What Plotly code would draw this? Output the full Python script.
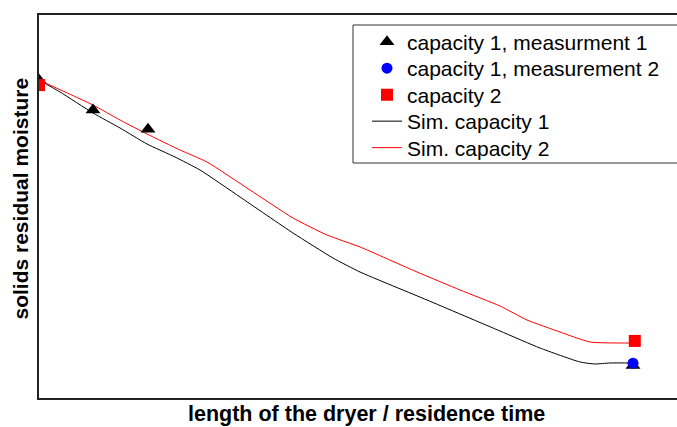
import plotly.graph_objects as go

# relative dryer length (0 = inlet, 1 = outlet) and relative residual moisture
sim1_x = [0, 0.0354, 0.0909, 0.1364, 0.1818, 0.2290, 0.2710, 0.3384, 0.4276, 0.4949,
          0.5404, 0.6532, 0.7761, 0.8434, 0.9108, 0.9360, 0.9613, 1.0]
sim1_y = [0.8303, 0.7990, 0.7441, 0.7050, 0.6632, 0.6292, 0.5953, 0.5248, 0.4308, 0.3655,
          0.3290, 0.2559, 0.1749, 0.1305, 0.0940, 0.0888, 0.0914, 0.0914]

sim2_x = [0, 0.0438, 0.0909, 0.1364, 0.1818, 0.2374, 0.2828, 0.3552, 0.4276, 0.4848,
          0.5404, 0.6364, 0.7088, 0.7761, 0.8215, 0.8771, 0.9276, 1.0]
sim2_y = [0.8303, 0.7990, 0.7650, 0.7258, 0.6893, 0.6475, 0.6162, 0.5431, 0.4700, 0.4256,
          0.3943, 0.3290, 0.2820, 0.2402, 0.2037, 0.1723, 0.1462, 0.1436]

meas1_x = [0, 0.0909, 0.1835, 1.0]
meas1_y = [0.830, 0.752, 0.702, 0.085]

meas2_x = [1.0]
meas2_y = [0.091]

cap2_x = [0, 1.003]
cap2_y = [0.817, 0.149]

FONT = "Liberation Sans, Arial, sans-serif"

W, H = 677, 427
L, R, T, B = 39, 0, 15, 29
pw, ph = W - L - R, H - T - B


def px(x):
    return (x - L) / pw


def py(y):
    return (H - B - y) / ph


fig = go.Figure()
fig.add_trace(go.Scatter(x=sim1_x, y=sim1_y, mode="lines", name="Sim. capacity 1",
                         line=dict(color="black", width=1, shape="spline", smoothing=0.5),
                         legend="legend4"))
fig.add_trace(go.Scatter(x=sim2_x, y=sim2_y, mode="lines", name="Sim. capacity 2",
                         line=dict(color="red", width=1, shape="spline", smoothing=0.5),
                         legend="legend5"))
fig.add_trace(go.Scatter(x=meas1_x, y=meas1_y, mode="markers", name="capacity 1, measurment 1",
                         marker=dict(symbol="triangle-up", color="black", size=13), legend="legend"))
fig.add_trace(go.Scatter(x=meas2_x, y=meas2_y, mode="markers", name="capacity 1, measurement 2",
                         marker=dict(symbol="circle", color="blue", size=11), legend="legend2"))
fig.add_trace(go.Scatter(x=cap2_x, y=cap2_y, mode="markers", name="capacity 2",
                         marker=dict(symbol="square", color="red", size=12), legend="legend3"))

row_centers = [42, 68.5, 95, 121.5, 148]


def leg(yc):
    return dict(x=px(367), y=py(yc), xanchor="left", yanchor="middle",
                bgcolor="rgba(0,0,0,0)", borderwidth=0,
                font=dict(size=21, family=FONT, color="black"))


fig.update_layout(
    width=W, height=H,
    margin=dict(l=L, r=R, t=T, b=B),
    paper_bgcolor="white", plot_bgcolor="white",
    font=dict(family=FONT, color="black"),
    showlegend=True,
    legend=leg(row_centers[0]),
    legend2=leg(row_centers[1]),
    legend3=leg(row_centers[2]),
    legend4=leg(row_centers[3]),
    legend5=leg(row_centers[4]),
    xaxis=dict(range=[0, (677 - 39) / 594], showgrid=False, zeroline=False,
               showticklabels=False, ticks="", showline=True, linecolor="#222",
               linewidth=1.5, mirror=True),
    yaxis=dict(range=[0, 1], showgrid=False, zeroline=False,
               showticklabels=False, ticks="", showline=True, linecolor="#222",
               linewidth=1.5, mirror=False),
    shapes=[dict(type="rect", xref="paper", yref="paper",
                 x0=px(353), x1=1.05, y0=py(163), y1=py(25),
                 line=dict(color="#333", width=1), fillcolor="rgba(0,0,0,0)")],
    annotations=[
        dict(text="<b>solids residual moisture</b>", xref="paper", yref="paper",
             x=px(20), y=py(198.5), textangle=-90, showarrow=False,
             xanchor="center", yanchor="middle", font=dict(size=21, family=FONT)),
        dict(text="<b>length of the dryer / residence time</b>", xref="paper", yref="paper",
             x=px(366.5), y=py(427), showarrow=False, borderpad=0,
             xanchor="center", yanchor="bottom", font=dict(size=21.5, family=FONT)),
    ],
)

fig.write_html("out.html", config={"displayModeBar": False},
               post_script="document.body.style.margin='0px';")
